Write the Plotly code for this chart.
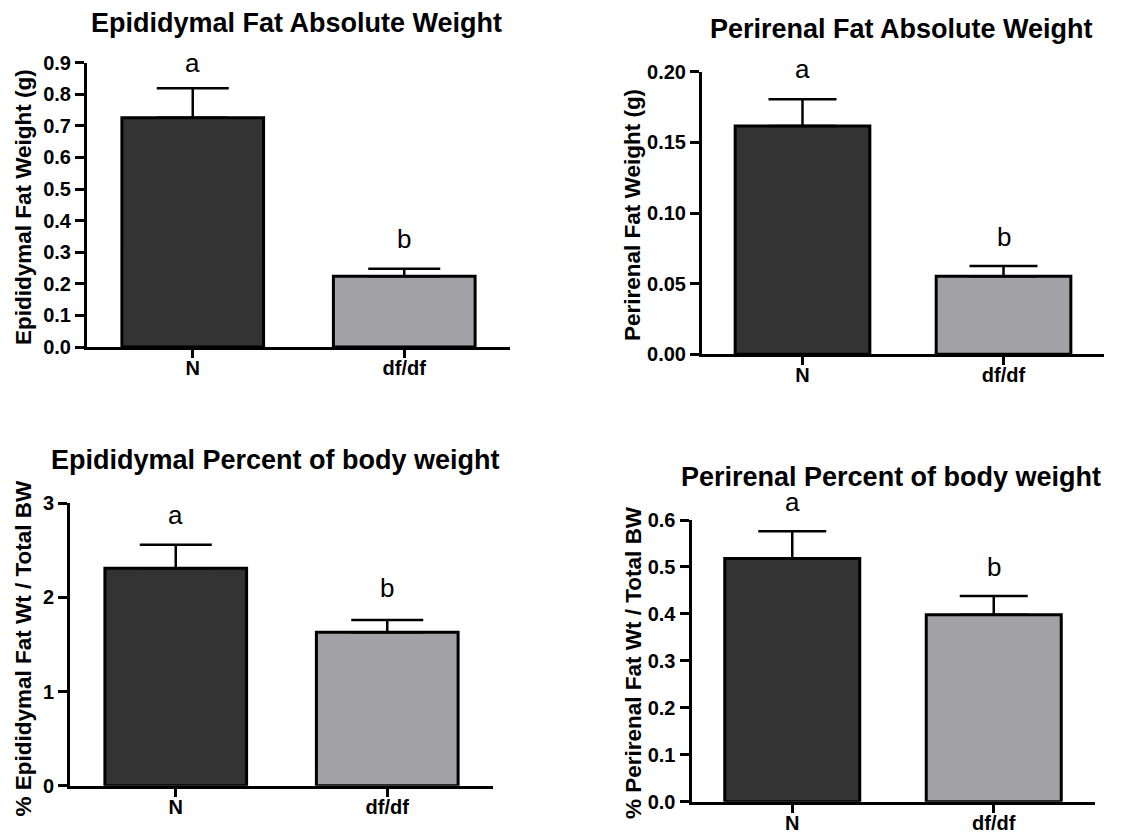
import plotly.graph_objects as go

# ---------------- data ----------------
categories = ["N", "df/df"]
letters = ["a", "b"]

epi_abs_mean = [0.726, 0.224]
epi_abs_sem = [0.093, 0.024]

peri_abs_mean = [0.1615, 0.0553]
peri_abs_sem = [0.019, 0.0072]

epi_pct_mean = [2.31, 1.63]
epi_pct_sem = [0.25, 0.13]

peri_pct_mean = [0.518, 0.398]
peri_pct_sem = [0.058, 0.040]

epi_abs_ticks = [0.0, 0.1, 0.2, 0.3, 0.4, 0.5, 0.6, 0.7, 0.8, 0.9]
epi_abs_ticklabels = ["0.0", "0.1", "0.2", "0.3", "0.4", "0.5", "0.6", "0.7", "0.8", "0.9"]
peri_abs_ticks = [0.0, 0.05, 0.10, 0.15, 0.20]
peri_abs_ticklabels = ["0.00", "0.05", "0.10", "0.15", "0.20"]
epi_pct_ticks = [0, 1, 2, 3]
epi_pct_ticklabels = ["0", "1", "2", "3"]
peri_pct_ticks = [0.0, 0.1, 0.2, 0.3, 0.4, 0.5, 0.6]
peri_pct_ticklabels = ["0.0", "0.1", "0.2", "0.3", "0.4", "0.5", "0.6"]

titles = [
    "Epididymal Fat Absolute Weight",
    "Perirenal Fat Absolute Weight",
    "Epididymal Percent of body weight",
    "Perirenal Percent of body weight",
]
ytitles = [
    "Epididymal Fat Weight (g)",
    "Perirenal Fat Weight (g)",
    "% Epididymal Fat Wt / Total BW",
    "% Perirenal Fat Wt / Total BW",
]

# ---------------- layout helpers ----------------
PAGE_W, PAGE_H = 1130, 835
OX, OY = 8, 8  # default page body margin offsets the figure
W, H = PAGE_W - OX, PAGE_H - OY
FONT = "Liberation Sans, Arial, sans-serif"
bar_colors = ["#333333", "#a2a2a6"]


def fx(p):
    return (p - OX) / W


def fy(p):
    return 1 - (p - OY) / H


# panel geometry in page pixels: x0, x1, ytop, ybottom
panels = [
    dict(x0=87, x1=510, yt=62.7, yb=347, ymax=0.9,
         mean=epi_abs_mean, sem=epi_abs_sem,
         tv=epi_abs_ticks, tt=epi_abs_ticklabels,
         title_xy=(296.5, 22.5), ytitle_xy=(23, 207), cap=36, lshift=[8, 13]),
    dict(x0=702, x1=1104, yt=71.7, yb=354.3, ymax=0.2,
         mean=peri_abs_mean, sem=peri_abs_sem,
         tv=peri_abs_ticks, tt=peri_abs_ticklabels,
         title_xy=(901, 29), ytitle_xy=(632, 215), cap=34, lshift=[13, 12]),
    dict(x0=70, x1=493, yt=503.3, yb=785.7, ymax=3.0,
         mean=epi_pct_mean, sem=epi_pct_sem,
         tv=epi_pct_ticks, tt=epi_pct_ticklabels,
         title_xy=(275, 460), ytitle_xy=(22.5, 648), cap=36, lshift=[13, 15]),
    dict(x0=691.5, x1=1094.5, yt=520, yb=801.7, ymax=0.6,
         mean=peri_pct_mean, sem=peri_pct_sem,
         tv=peri_pct_ticks, tt=peri_pct_ticklabels,
         title_xy=(891, 477), ytitle_xy=(633, 663), cap=34, lshift=[12, 12]),
]

fig = go.Figure()
annotations = []

for i, p in enumerate(panels):
    n = i + 1
    xa = "x" if n == 1 else f"x{n}"
    ya = "y" if n == 1 else f"y{n}"
    fig.add_trace(go.Bar(
        x=categories, y=p["mean"],
        xaxis=xa, yaxis=ya,
        width=0.67,
        marker=dict(color=bar_colors, line=dict(color="black", width=3)),
        error_y=dict(type="data", symmetric=False, array=p["sem"],
                     arrayminus=[0] * len(p["sem"]),
                     color="black", thickness=2.5, width=p["cap"]),
        showlegend=False,
        hoverinfo="skip",
    ))
    common_line = dict(showline=True, linecolor="black", linewidth=3,
                       ticks="outside", tickcolor="black", tickwidth=3,
                       showgrid=False, zeroline=False, automargin=False)
    xkey = "xaxis" if n == 1 else f"xaxis{n}"
    ykey = "yaxis" if n == 1 else f"yaxis{n}"
    fig.update_layout(**{
        xkey: dict(domain=[fx(p["x0"]), fx(p["x1"])], anchor=ya,
                   type="category", range=[-0.5, 1.5], ticklen=8,
                   ticklabelstandoff=-7,
                   tickfont=dict(family=FONT, size=20, color="black", weight="bold"),
                   **common_line),
        ykey: dict(domain=[fy(p["yb"]), fy(p["yt"])], anchor=xa,
                   range=[0, p["ymax"]], tickvals=p["tv"], ticktext=p["tt"],
                   ticklen=9,
                   tickfont=dict(family=FONT, size=20, color="black", weight="bold"),
                   **common_line),
    })
    # panel title
    annotations.append(dict(
        text=titles[i], xref="paper", yref="paper",
        x=fx(p["title_xy"][0]), y=fy(p["title_xy"][1]),
        xanchor="center", yanchor="middle", showarrow=False,
        font=dict(family=FONT, size=27, color="black", weight="bold"),
    ))
    # y axis title
    annotations.append(dict(
        text=ytitles[i], xref="paper", yref="paper",
        x=fx(p["ytitle_xy"][0]), y=fy(p["ytitle_xy"][1]),
        xanchor="center", yanchor="middle", textangle=-90, showarrow=False,
        font=dict(family=FONT, size=22.5, color="black", weight="bold"),
    ))
    # significance letters
    for j, cat in enumerate(categories):
        annotations.append(dict(
            text=letters[j], xref=xa, yref=ya,
            x=cat, y=p["mean"][j] + p["sem"][j],
            xanchor="center", yanchor="bottom", yshift=p["lshift"][j],
            showarrow=False,
            font=dict(family=FONT, size=26, color="black"),
        ))

fig.update_layout(
    width=W, height=H, autosize=False,
    margin=dict(l=0, r=0, t=0, b=0, autoexpand=False),
    paper_bgcolor="white", plot_bgcolor="white",
    annotations=annotations,
    bargap=0.33,
)

fig.write_html("out.html")
